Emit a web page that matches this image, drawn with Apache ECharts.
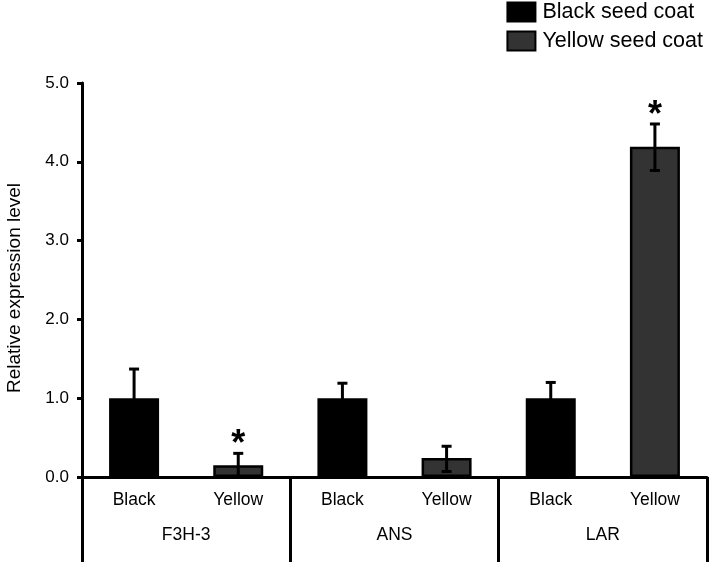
<!DOCTYPE html>
<html>
<head>
<meta charset="utf-8">
<script src="https://cdn.jsdelivr.net/npm/echarts@6/dist/echarts.min.js"></script>
<style>
  html, body { margin: 0; padding: 0; background: #fff; }
  #chart { width: 709px; height: 562px; }
</style>
</head>
<body>
<div id="chart"></div>
<script>
// data
const categories = ["Black", "Yellow", "Black", "Yellow", "Black", "Yellow"];
const genes = ["F3H-3", "ANS", "LAR"];
const blackValues = [1.0, "-", 1.0, "-", 1.0, "-"];
const yellowValues = ["-", 0.15, "-", 0.24, "-", 4.19];
const errLow = [0.63, 0.0, 0.81, 0.07, 0.8, 3.89];
const errHigh = [1.37, 0.30, 1.19, 0.39, 1.2, 4.48];
const significant = [false, true, false, false, false, true];
const yTicks = [0, 1, 2, 3, 4, 5];

const font = "Liberation Sans, Arial, sans-serif";

const errData = categories.map((c, i) => [i, errLow[i], errHigh[i], significant[i] ? 1 : 0]);

const chart = echarts.init(document.getElementById("chart"));
chart.setOption({
    animation: false,
    textStyle: { fontFamily: font, color: "#000" },
    grid: { left: 82, right: 2, top: 83, bottom: 85, outerBoundsMode: "none", containLabel: false },
    legend: {
        orient: "vertical",
        right: 6,
        top: 1,
        padding: 0,
        itemWidth: 28,
        itemHeight: 19,
        itemGap: 7,
        icon: "rect",
        textStyle: { fontSize: 21.5, lineHeight: 19, color: "#000", fontFamily: font, padding: [0, 0, 0, 2] },
        data: ["Black seed coat", "Yellow seed coat"],
    },
    xAxis: [
        {
            type: "category",
            data: categories,
            position: "bottom",
            axisLine: { lineStyle: { color: "#000", width: 3 } },
            axisTick: { show: false },
            axisLabel: { fontSize: 17.5, color: "#000", margin: 14 },
        },
        {
            type: "category",
            data: genes,
            position: "bottom",
            axisLine: { show: false },
            axisTick: { show: true, length: 90, lineStyle: { color: "#000", width: 3 } },
            axisLabel: { fontSize: 17.5, color: "#000", margin: 49 },
        },
    ],
    yAxis: {
        type: "value",
        min: 0,
        max: 5,
        interval: 1,
        name: "Relative expression level",
        nameLocation: "middle",
        nameGap: 58,
        nameTextStyle: { fontSize: 19, color: "#000", padding: [0, 0, 0, -16] },
        axisLine: { show: true, lineStyle: { color: "#000", width: 3 } },
        axisTick: { show: true, length: 5, lineStyle: { color: "#000", width: 3 } },
        axisLabel: {
            fontSize: 17,
            color: "#000",
            margin: 13,
            formatter: (v) => (yTicks.includes(v) ? v.toFixed(1) : ""),
        },
        splitLine: { show: false },
    },
    series: [
        {
            name: "Black seed coat",
            type: "bar",
            data: blackValues,
            barWidth: 50,
            barGap: "-100%",
            itemStyle: { color: "#000", borderColor: "#000", borderWidth: 2 },
        },
        {
            name: "Yellow seed coat",
            type: "bar",
            data: yellowValues,
            barWidth: 50,
            itemStyle: { color: "#333", borderColor: "#000", borderWidth: 2.5 },
        },
        {
            type: "custom",
            data: errData,
            z: 10,
            renderItem: (params, api) => {
                const x = api.value(0);
                const lo = api.coord([x, api.value(1)]);
                const hi = api.coord([x, api.value(2)]);
                const cap = 5;
                const style = { stroke: "#000", lineWidth: 3 };
                const children = [
                    { type: "line", shape: { x1: lo[0], y1: lo[1], x2: hi[0], y2: hi[1] }, style },
                    { type: "line", shape: { x1: hi[0] - cap, y1: hi[1], x2: hi[0] + cap, y2: hi[1] }, style },
                    { type: "line", shape: { x1: lo[0] - cap, y1: lo[1], x2: lo[0] + cap, y2: lo[1] }, style },
                ];
                if (api.value(3)) {
                    children.push({
                        type: "text",
                        style: {
                            text: "*",
                            x: hi[0],
                            y: hi[1] + 10,
                            align: "center",
                            verticalAlign: "bottom",
                            fontSize: 36,
                            fontWeight: "bold",
                            fontFamily: font,
                            fill: "#000",
                        },
                    });
                }
                return { type: "group", children };
            },
        },
    ],
});
</script>
</body>
</html>
